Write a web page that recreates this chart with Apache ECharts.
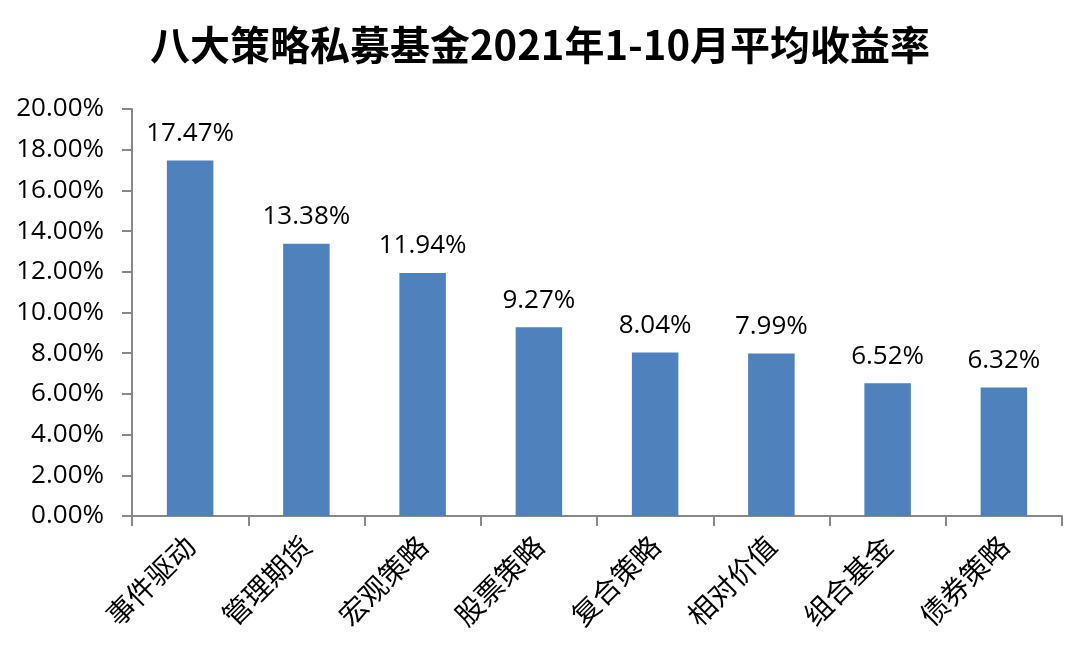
<!DOCTYPE html>
<html><head><meta charset="utf-8">
<script src="https://cdn.jsdelivr.net/npm/echarts@6/dist/echarts.min.js"></script>
<style>html,body{margin:0;padding:0;background:#fff}#c{width:1080px;height:656px}</style>
</head><body><div id="c"></div>
<script>
const title = '八大策略私募基金2021年1-10月平均收益率';
const categories = ['事件驱动','管理期货','宏观策略','股票策略','复合策略','相对价值','组合基金','债券策略'];
const values = [17.47, 13.38, 11.94, 9.27, 8.04, 7.99, 6.52, 6.32];
const chart = echarts.init(document.getElementById('c'));
chart.setOption({
  animation: false,
  backgroundColor: '#fff',
  title: {text: title, left: 'center', top: 20,
    textStyle: {fontFamily: '"Noto Sans CJK SC", sans-serif', fontSize: 40, fontWeight: 'bold', color: '#000'}},
  grid: {left: 132, right: 18, top: 109, bottom: 140},
  xAxis: {type: 'category', data: categories,
    axisLine: {lineStyle: {color: '#888888', width: 2}},
    axisTick: {show: true, length: 10, lineStyle: {color: '#888888', width: 2}},
    axisLabel: {rotate: 45, margin: 25, fontSize: 28, color: '#000', fontFamily: '"Noto Sans CJK SC", serif'}},
  yAxis: {type: 'value', min: 0, max: 20, interval: 2,
    axisLine: {show: true, lineStyle: {color: '#888888', width: 2}},
    axisTick: {show: true, length: 10, lineStyle: {color: '#888888', width: 2}},
    splitLine: {show: false},
    axisLabel: {margin: 28, fontSize: 26, color: '#000', fontFamily: '"Open Sans", sans-serif',
      formatter: v => v.toFixed(2) + '%'}},
  series: [{type: 'bar', data: values, barWidth: '40%',
    itemStyle: {color: '#4F81BD'},
    label: {show: true, position: 'top', distance: 14, fontSize: 26, color: '#000', fontFamily: '"Open Sans", sans-serif',
      formatter: p => p.value.toFixed(2) + '%'}}]
});
</script></body></html>
